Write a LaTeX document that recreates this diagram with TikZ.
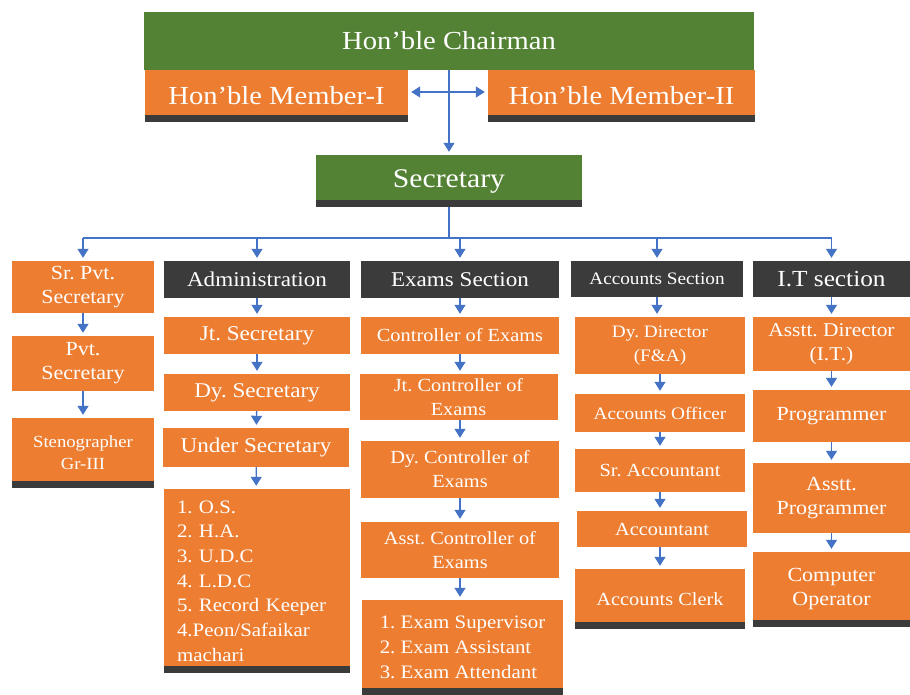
\documentclass[tikz,border=0pt]{standalone}
\usepackage{fontspec}
\setmainfont{Liberation Serif}[FakeStretch=1.1]
\usetikzlibrary{arrows.meta}
\definecolor{orangec}{HTML}{ED7D31}
\definecolor{greenc}{HTML}{548235}
\definecolor{darkc}{HTML}{3B3B3B}
\definecolor{bluec}{HTML}{4472C4}
\newcommand\fsz[2]{\fontsize{#1}{#2}\selectfont}
\frenchspacing
\begin{document}
\frenchspacing
\begin{tikzpicture}[x=1pt,y=-1pt,
  box/.style={rectangle, inner sep=0pt, align=center, text=white},
  obox/.style={box, fill=orangec},
  gbox/.style={box, fill=greenc},
  dbox/.style={box, fill=darkc},
  foot/.style={path picture={\fill[darkc] ([yshift=7pt]path picture bounding box.south west) rectangle (path picture bounding box.south east);}},
  line/.style={draw=bluec, line width=1.3pt},
  arr/.style={line, -{Triangle[width=11pt,length=9pt]}, shorten >=3pt}
]
\fill[white] (0,0) rectangle (910,695);
% top
\node[gbox, minimum width=610pt, minimum height=58pt, font=\fsz{26}{30}] (ch) at (449,41) {Hon’ble Chairman};
\node[obox, foot, minimum width=263pt, minimum height=52pt, font=\fsz{26}{30}] (m1) at (276.5,96) {Hon’ble Member-I};
\node[obox, foot, minimum width=267pt, minimum height=52pt, font=\fsz{26}{30}] (m2) at (621.5,96) {Hon’ble Member-II};
\node[gbox, foot, minimum width=266pt, minimum height=52pt, font=\fsz{27}{30}] (sec) at (449,181) {Secretary};
% column 1
\node[obox, minimum width=142pt, minimum height=52pt, font=\fsz{20}{24}] (sp1) at (83,287) {Sr. Pvt.\\Secretary};
\node[obox, minimum width=142pt, minimum height=55pt, font=\fsz{20}{24}] (sp2) at (83,363.5) {Pvt.\\Secretary};
\node[obox, foot, minimum width=142pt, minimum height=70pt, font=\fsz{17}{22}] (sp3) at (83,453) {Stenographer\\Gr-III};
% column 2
\node[dbox, minimum width=186pt, minimum height=37pt, font=\fsz{21}{24}] (adm) at (257,279.5) {Administration};
\node[obox, minimum width=186pt, minimum height=37pt, font=\fsz{21}{24}] (a1) at (257,335.5) {Jt. Secretary};
\node[obox, minimum width=186pt, minimum height=37pt, font=\fsz{21}{24}] (a2) at (257,392.5) {Dy. Secretary};
\node[obox, minimum width=186pt, minimum height=39pt, font=\fsz{21}{24}] (a3) at (256,447.5) {Under Secretary};
\node[obox, foot, minimum width=186pt, minimum height=184pt, text width=160pt, align=left, font=\fsz{19}{24.7}] (a4) at (257,581) {1. O.S.\\2. H.A.\\3. U.D.C\\4. L.D.C\\5. Record Keeper\\4.Peon/Safaikar\\machari};
% column 3
\node[dbox, minimum width=198pt, minimum height=37pt, font=\fsz{21}{24}] (ex) at (460,279.5) {Exams Section};
\node[obox, minimum width=198pt, minimum height=37pt, font=\fsz{18.5}{24}] (e1) at (460,335.5) {Controller of Exams};
\node[obox, minimum width=198pt, minimum height=46pt, font=\fsz{18.5}{24}] (e2) at (458.5,397) {Jt. Controller of\\Exams};
\node[obox, minimum width=198pt, minimum height=57pt, font=\fsz{18.5}{24}] (e3) at (460,469.5) {Dy. Controller of\\Exams};
\node[obox, minimum width=198pt, minimum height=56pt, font=\fsz{18.5}{24}] (e4) at (460,550) {Asst. Controller of\\Exams};
\node[obox, foot, minimum width=201pt, minimum height=95pt, align=left, font=\fsz{19}{25}] (e5) at (462.5,647.5) {1. Exam Supervisor\\2. Exam Assistant\\3. Exam Attendant};
% column 4
\node[dbox, minimum width=172pt, minimum height=36pt, font=\fsz{17.5}{22}] (acc) at (657,279) {Accounts Section};
\node[obox, minimum width=170pt, minimum height=57pt, font=\fsz{17.5}{24}] (c1) at (660,345.5) {Dy. Director\\(F\&A)};
\node[obox, minimum width=170pt, minimum height=38pt, font=\fsz{17.5}{24}] (c2) at (660,413) {Accounts Officer};
\node[obox, minimum width=170pt, minimum height=43pt, font=\fsz{18.5}{24}] (c3) at (660,470.5) {Sr. Accountant};
\node[obox, minimum width=170pt, minimum height=36pt, font=\fsz{18.5}{24}] (c4) at (662,529) {Accountant};
\node[obox, foot, minimum width=170pt, minimum height=60pt, font=\fsz{18.5}{24}] (c5) at (660,599) {Accounts Clerk};
% column 5
\node[dbox, minimum width=157pt, minimum height=36pt, font=\fsz{23}{26}] (it) at (831.5,279) {I.T section};
\node[obox, minimum width=157pt, minimum height=54pt, font=\fsz{19.5}{24}] (i1) at (831.5,344) {Asstt. Director\\(I.T.)};
\node[obox, minimum width=157pt, minimum height=52pt, font=\fsz{20}{24}] (i2) at (831.5,416) {Programmer};
\node[obox, minimum width=157pt, minimum height=70pt, font=\fsz{20}{24}] (i3) at (831.5,498) {Asstt.\\Programmer};
\node[obox, foot, minimum width=157pt, minimum height=75pt, font=\fsz{20}{24}] (i4) at (831.5,589.5) {Computer\\Operator};
% connectors top
\draw[arr] (ch.south) -- (sec.north);
\coordinate (mj) at (449,92);
\draw[arr] (mj) -- (m1.east |- mj);
\draw[arr] (mj) -- (m2.west |- mj);
\coordinate (bus) at (449,238);
\draw[line] (sec.south) -- (bus);
\draw[line] (sp1.north |- bus) -- (it.north |- bus);
\foreach \n in {sp1,adm,ex,acc,it}{\draw[arr] (\n.north |- bus) -- (\n.north);}
% chains
\draw[arr] (sp1) -- (sp2);
\draw[arr] (sp2) -- (sp3);
\draw[arr] (adm) -- (a1);
\draw[arr] (a1) -- (a2);
\draw[arr] (a2) -- (a3);
\draw[arr] (a3) -- (a4);
\draw[arr] (ex.south) -- (e1.north);
\draw[arr] (e1.south) -- (e2.north -| e1.south);
\draw[arr] (e2.south -| e1.south) -- (e3.north -| e1.south);
\draw[arr] (e3) -- (e4);
\draw[arr] (e4.south) -- (e5.north -| e4.south);
\draw[arr] (acc.south) -- (c1.north -| acc.south);
\draw[arr] (c1) -- (c2);
\draw[arr] (c2) -- (c3);
\draw[arr] (c3.south) -- (c4.north -| c3.south);
\draw[arr] (c4.south -| c3.south) -- (c5.north);
\draw[arr] (it) -- (i1);
\draw[arr] (i1) -- (i2);
\draw[arr] (i2) -- (i3);
\draw[arr] (i3) -- (i4);
\end{tikzpicture}
\end{document}
